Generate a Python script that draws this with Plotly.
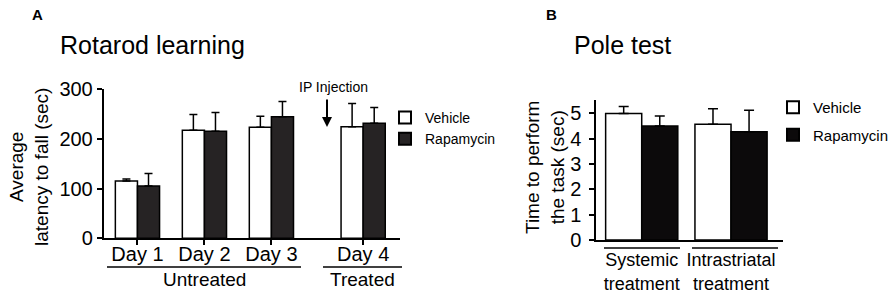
import plotly.graph_objects as go

# ---------------- data ----------------
days = ["Day 1", "Day 2", "Day 3", "Day 4"]
rotarod_vehicle = [115, 217, 223, 224]
rotarod_vehicle_err = [4, 32, 22, 47]
rotarod_rapa = [105, 215, 244, 231]
rotarod_rapa_err = [25, 38, 31, 32]

pole_groups = ["Systemic<br>treatment", "Intrastriatal<br>treatment"]
pole_vehicle = [5.0, 4.57]
pole_vehicle_err = [0.27, 0.61]
pole_rapa = [4.5, 4.28]
pole_rapa_err = [0.4, 0.85]

series_names = ["Vehicle", "Rapamycin"]

# ---------------- layout helpers ----------------
W, H = 892, 296
FONT = "Liberation Sans, Arial, Helvetica, sans-serif"
day_pos = [1, 2, 3, 4.37]
pole_pos = [1, 2]

xa_dom = [103.5 / W, 400 / W]
xa_rng = [0.493, 4.92]
ya_dom = [1 - 238.3 / H, 1 - 89 / H]
xb_dom = [596 / W, 783 / W]
xb_rng = [0.488, 2.582]
yb_dom = [1 - 240 / H, 1 - 100 / H]


def px_to_paper_x(px):
    return px / W


def px_to_paper_y(py):
    return 1 - py / H


bw_a = 0.33
bw_b = 0.404

fig = go.Figure()

# Panel A bars
fig.add_trace(go.Bar(
    x=day_pos, y=rotarod_vehicle, width=bw_a, offset=-bw_a,
    marker=dict(color="white", line=dict(color="black", width=1.5)),
    error_y=dict(type="data", array=rotarod_vehicle_err, arrayminus=[0] * 4,
                 symmetric=False, color="black", thickness=1.5, width=4),
    name=series_names[0], legend="legend", xaxis="x", yaxis="y",
))
fig.add_trace(go.Bar(
    x=day_pos, y=rotarod_rapa, width=bw_a, offset=0,
    marker=dict(color="#262324", line=dict(color="black", width=1.5)),
    error_y=dict(type="data", array=rotarod_rapa_err, arrayminus=[0] * 4,
                 symmetric=False, color="black", thickness=1.5, width=4),
    name=series_names[1], legend="legend", xaxis="x", yaxis="y",
))

# Panel B bars
fig.add_trace(go.Bar(
    x=pole_pos, y=pole_vehicle, width=bw_b, offset=-bw_b,
    marker=dict(color="white", line=dict(color="black", width=1.5)),
    error_y=dict(type="data", array=pole_vehicle_err, arrayminus=[0] * 2,
                 symmetric=False, color="black", thickness=1.5, width=5),
    name=series_names[0], legend="legend2", legendgroup="veh", xaxis="x2", yaxis="y2",
))
fig.add_trace(go.Bar(
    x=pole_pos, y=pole_rapa, width=bw_b, offset=0,
    marker=dict(color="#0c0a0b", line=dict(color="black", width=1.5)),
    error_y=dict(type="data", array=pole_rapa_err, arrayminus=[0] * 2,
                 symmetric=False, color="black", thickness=1.5, width=5),
    name=series_names[1], legend="legend2", legendgroup="rapa", xaxis="x2", yaxis="y2",
))

axis_common = dict(showline=True, linecolor="black", linewidth=1.5,
                   showgrid=False, zeroline=False, ticks="outside",
                   tickcolor="black", ticklen=5, tickwidth=1.5, automargin=False,
                   tickfont=dict(family=FONT, size=20, color="black"))


def label(text, px, py, size, bold=False, angle=0, xanchor="center"):
    return dict(text=f"<b>{text}</b>" if bold else text,
                x=px_to_paper_x(px), y=px_to_paper_y(py), xref="paper", yref="paper",
                xanchor=xanchor, yanchor="middle", textangle=angle, showarrow=False,
                font=dict(family=FONT, size=size, color="black"))


annotations = [
    label("A", 37, 15, 15, bold=True),
    label("Rotarod learning", 58, 45, 25, xanchor="left"),
    label("B", 551, 15, 15, bold=True),
    label("Pole test", 572, 45, 25, xanchor="left"),
    label("Average<br>latency to fall (sec)", 29, 167, 19, angle=-90),
    label("Time to perform<br>the task (sec)", 545, 168, 19, angle=-90),
    label("Untreated", 204, 279, 19),
    label("Treated", 362, 279, 19),
    label("IP Injection", 333, 87, 14),
    dict(text="", x=px_to_paper_x(327), y=px_to_paper_y(127), xref="paper", yref="paper",
         showarrow=True, ax=0, ay=-29, arrowhead=2, arrowsize=1, arrowwidth=2, arrowcolor="black"),
]

shapes = [
    dict(type="line", xref="paper", yref="paper", x0=px_to_paper_x(107), x1=px_to_paper_x(301),
         y0=px_to_paper_y(267), y1=px_to_paper_y(267), line=dict(color="black", width=1.5)),
    dict(type="line", xref="paper", yref="paper", x0=px_to_paper_x(323), x1=px_to_paper_x(402),
         y0=px_to_paper_y(267), y1=px_to_paper_y(267), line=dict(color="black", width=1.5)),
    dict(type="line", xref="paper", yref="paper", x0=px_to_paper_x(604), x1=px_to_paper_x(680),
         y0=px_to_paper_y(248), y1=px_to_paper_y(248), line=dict(color="black", width=1.5)),
    dict(type="line", xref="paper", yref="paper", x0=px_to_paper_x(692), x1=px_to_paper_x(778),
         y0=px_to_paper_y(248), y1=px_to_paper_y(248), line=dict(color="black", width=1.5)),
]

xa_axis = dict(axis_common)
xa_axis["ticklabelstandoff"] = -8
yb_axis = dict(axis_common)
yb_axis["ticklabelstandoff"] = 4

fig.update_layout(
    template="none",
    width=W, height=H, margin=dict(l=0, r=0, t=0, b=0, autoexpand=False),
    paper_bgcolor="white", plot_bgcolor="white",
    barmode="overlay",
    font=dict(family=FONT, color="black"),
    xaxis=dict(domain=xa_dom, range=xa_rng, tickvals=day_pos, ticktext=days,
               anchor="y", **xa_axis),
    yaxis=dict(domain=ya_dom, range=[0, 300], tickvals=[0, 100, 200, 300],
               anchor="x", **axis_common),
    xaxis2=dict(domain=xb_dom, range=xb_rng, tickvals=pole_pos, ticktext=pole_groups,
                anchor="y2", showline=True, linecolor="black", linewidth=1.5,
                showgrid=False, zeroline=False, ticks="", showticklabels=True,
                automargin=False, ticklabelstandoff=3,
                tickfont=dict(family=FONT, size=18, color="black")),
    yaxis2=dict(domain=yb_dom, range=[0, 5.53], tickvals=[0, 1, 2, 3, 4, 5],
                anchor="x2", **yb_axis),
    legend=dict(x=px_to_paper_x(385), y=px_to_paper_y(102), xanchor="left", yanchor="top",
                font=dict(family=FONT, size=14, color="black"), bgcolor="rgba(0,0,0,0)",
                tracegroupgap=0, itemsizing="constant"),
    legend2=dict(x=px_to_paper_x(773), y=px_to_paper_y(91), xanchor="left", yanchor="top",
                 font=dict(family=FONT, size=15, color="black"), bgcolor="rgba(0,0,0,0)",
                 tracegroupgap=5, itemsizing="constant"),
    showlegend=True,
    annotations=annotations,
    shapes=shapes,
)

fig.write_html("out.html", config={"displayModeBar": False},
               post_script="document.body.style.margin='0';document.body.style.overflow='hidden';")
